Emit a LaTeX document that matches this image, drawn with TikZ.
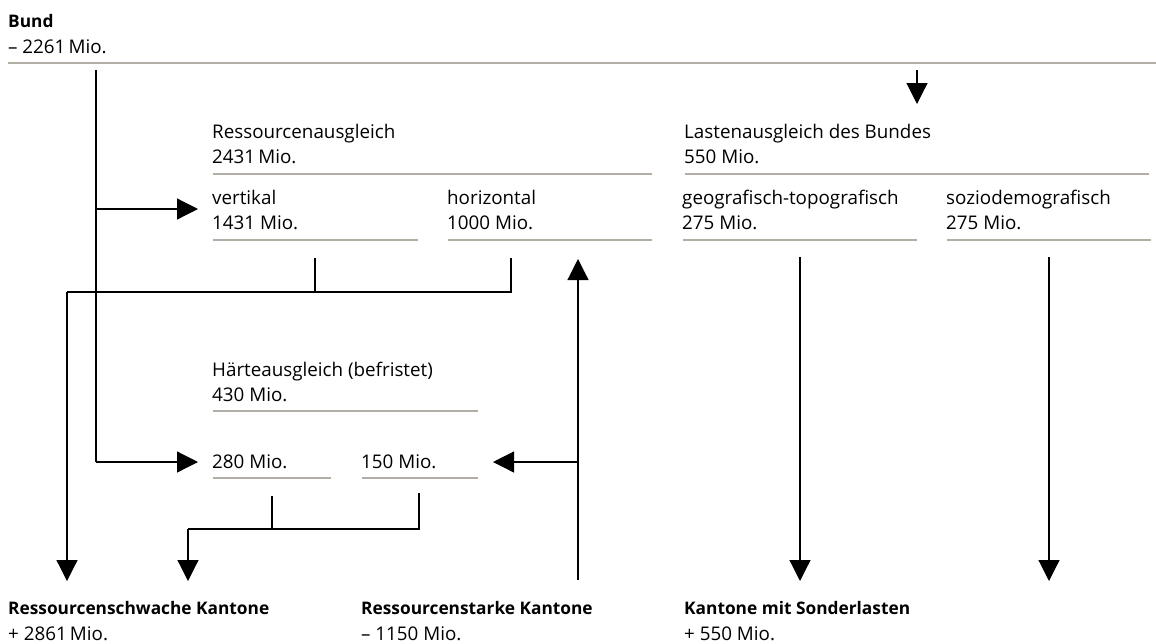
\documentclass[tikz,border=0pt]{standalone}
\usepackage{fontspec}
\setmainfont{Open Sans}
\usetikzlibrary{arrows.meta}
\definecolor{rulegray}{RGB}{178,174,166}
\begin{document}
\begin{tikzpicture}[x=1pt,y=-1pt,
  lbl/.style={anchor=base west,inner sep=0pt,font=\fontsize{18.8}{20}\selectfont},
  blbl/.style={anchor=base west,inner sep=0pt,font=\fontsize{17.3}{20}\selectfont\bfseries},
  rulel/.style={draw=rulegray,line width=1.7pt},
  conn/.style={draw=black,line width=1.2pt},
  arr/.style={conn,-{Triangle[length=21pt,width=21pt]}}]
\useasboundingbox (0,0) rectangle (1156,643);

% texts
\node[blbl] (bund) at (8,27) {Bund};
\node[lbl] (bund2) at (8,53) {– 2261\,Mio.};
\node[lbl] (ra) at (212,138) {Ressourcenausgleich};
\node[lbl] (ra2) at (212,163) {2431\,Mio.};
\node[lbl] (vert) at (212,204) {vertikal};
\node[lbl] (vert2) at (212,229) {1431 Mio.};
\node[lbl] (hor) at (447,204) {horizontal};
\node[lbl] (hor2) at (447,229) {1000 Mio.};
\node[lbl] (la) at (684,138) {Lastenausgleich des Bundes};
\node[lbl] (la2) at (684,163) {550 Mio.};
\node[lbl] (geo) at (682,204) {geografisch-topografisch};
\node[lbl] (geo2) at (682,229) {275 Mio.};
\node[lbl] (soz) at (946,204) {soziodemografisch};
\node[lbl] (soz2) at (946,229) {275 Mio.};
\node[lbl] (ha) at (212,376) {Härteausgleich (befristet)};
\node[lbl] (ha2) at (212,401) {430 Mio.};
\node[lbl] (h280) at (212,468) {280 Mio.};
\node[lbl] (h150) at (361,468) {150 Mio.};
\node[blbl] (rs) at (8,614) {Ressourcenschwache Kantone};
\node[lbl] (rs2) at (8,640) {+ 2861\,Mio.};
\node[blbl] (rst) at (361,614) {Ressourcenstarke Kantone};
\node[lbl] (rst2) at (361,640) {– 1150 Mio.};
\node[blbl] (ks) at (684,614) {Kantone mit Sonderlasten};
\node[lbl] (ks2) at (684,640) {+ 550 Mio.};

% rules
\draw[rulel] (8,63) -- (1156,63);
\draw[rulel] (213,174) -- (652,174);
\draw[rulel] (213,240) -- (418,240);
\draw[rulel] (448,240) -- (652,240);
\draw[rulel] (685,174) -- (1149,174);
\draw[rulel] (683,240) -- (917,240);
\draw[rulel] (947,240) -- (1151,240);
\draw[rulel] (213,411) -- (478,411);
\draw[rulel] (213,478) -- (331,478);
\draw[rulel] (362,478) -- (478,478);

% coordinates
\coordinate (b0) at (96,70);
\coordinate (b1) at (96,209);
\coordinate (b2) at (96,462);
\coordinate (vin) at (198,209);
\coordinate (hin) at (198,462);
\coordinate (t0) at (917,70);
\coordinate (t1) at (917,104);
\coordinate (v0) at (315,258);
\coordinate (v1) at (315,292);
\coordinate (h0) at (511,258);
\coordinate (h1) at (511,292);
\coordinate (l0) at (67,292);
\coordinate (l1) at (67,581);
\coordinate (u0) at (578,580);
\coordinate (u1) at (578,259);
\coordinate (u2) at (578,462);
\coordinate (uin) at (493,462);
\coordinate (a0) at (272,496);
\coordinate (a1) at (272,529);
\coordinate (c0) at (419,493);
\coordinate (c1) at (419,529);
\coordinate (d0) at (188,529);
\coordinate (d1) at (188,581);
\coordinate (g0) at (800,257);
\coordinate (g1) at (800,581);
\coordinate (s0) at (1049,257);
\coordinate (s1) at (1049,581);

% connectors
\draw[conn] (b0) -- (b2);
\draw[arr] (b1) -- (vin);
\draw[arr] (b2) -- (hin);
\draw[arr] (t0) -- (t1);
\draw[conn] (v0) -- (v1);
\draw[conn] (h0) -- (h1) -- (l0);
\draw[arr] (l0) -- (l1);
\draw[arr] (u0) -- (u1);
\draw[arr] (u2) -- (uin);
\draw[conn] (a0) -- (a1);
\draw[conn] (c0) -- (c1) -- (d0);
\draw[arr] (d0) -- (d1);
\draw[arr] (g0) -- (g1);
\draw[arr] (s0) -- (s1);
\end{tikzpicture}
\end{document}
